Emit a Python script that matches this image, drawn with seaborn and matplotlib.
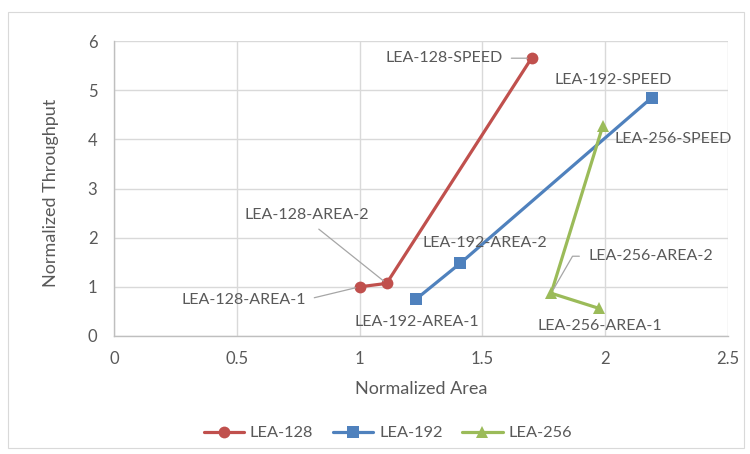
import matplotlib
matplotlib.use("Agg")
import matplotlib.pyplot as plt
import seaborn as sns
import pandas as pd
from matplotlib.patches import Rectangle

# Design points per key size (area, throughput), normalized
series = ["LEA-128", "LEA-192", "LEA-256"]
lea128_area = [1.00, 1.11, 1.70]
lea128_thr = [1.00, 1.07, 5.65]
lea192_area = [1.23, 1.41, 2.19]
lea192_thr = [0.75, 1.48, 4.85]
lea256_area = [1.976, 1.78, 1.99]
lea256_thr = [0.56, 0.87, 4.27]
lea128_names = ["LEA-128-AREA-1", "LEA-128-AREA-2", "LEA-128-SPEED"]
lea192_names = ["LEA-192-AREA-1", "LEA-192-AREA-2", "LEA-192-SPEED"]
lea256_names = ["LEA-256-AREA-1", "LEA-256-AREA-2", "LEA-256-SPEED"]

x_ticks = [0, 0.5, 1, 1.5, 2, 2.5]
x_tick_labels = ["0", "0.5", "1", "1.5", "2", "2.5"]
y_ticks = [0, 1, 2, 3, 4, 5, 6]

df = pd.DataFrame({
    "area": lea128_area + lea192_area + lea256_area,
    "thr": lea128_thr + lea192_thr + lea256_thr,
    "design": lea128_names + lea192_names + lea256_names,
    "cipher": [series[0]] * 3 + [series[1]] * 3 + [series[2]] * 3,
})

sns.set_theme(style="white")
plt.rcParams["font.family"] = ["Lato", "DejaVu Sans"]
TXT = "#595959"
GRID = "#d9d9d9"
FS_LABEL = 11.5
FS_TICK = 12
FS_TITLE = 13
FS_LEG = 11.8

fig = plt.figure(figsize=(7.5, 4.54), dpi=100)
fig.patch.set_facecolor("white")
fig.patches.append(Rectangle((8 / 750, 1 - 448 / 454), 736 / 750, 436 / 454,
                             transform=fig.transFigure, fill=False,
                             edgecolor="#d9d9d9", linewidth=0.8))
ax = fig.add_axes([114 / 750, 1 - 336 / 454, 614 / 750, 295 / 454])

palette = {"LEA-128": "#C0504D", "LEA-192": "#4F81BD", "LEA-256": "#9BBB59"}
markers = {"LEA-128": "o", "LEA-192": "s", "LEA-256": "^"}
sns.lineplot(data=df, x="area", y="thr", hue="cipher", style="cipher",
             markers=markers, dashes=False, palette=palette, sort=False,
             estimator=None, linewidth=2.3, markersize=8.5,
             markeredgewidth=0, ax=ax)

ax.set_xlim(0, 2.5)
ax.set_ylim(0, 6)
ax.set_xticks(x_ticks)
ax.set_xticklabels(x_tick_labels)
ax.set_yticks(y_ticks)
ax.grid(True, color=GRID, linewidth=1.0)
ax.set_axisbelow(True)
for s in ["top", "right"]:
    ax.spines[s].set_visible(False)
for s in ["left", "bottom"]:
    ax.spines[s].set_color("#bfbfbf")
    ax.spines[s].set_linewidth(1.0)
ax.tick_params(axis="both", colors=TXT, labelsize=FS_TICK, length=0)
ax.tick_params(axis="y", pad=12)
ax.tick_params(axis="x", pad=11)
ax.set_xlabel("Normalized Area", color=TXT, fontsize=FS_TITLE, va="center")
ax.set_ylabel("Normalized Throughput", color=TXT, fontsize=FS_TITLE, va="center")
ax.xaxis.set_label_coords(0.5, (336 - 389) / 295)
ax.yaxis.set_label_coords((51 - 114) / 614, (336 - 193) / 295)

# Point labels: offset in pixels, alignment, optional leader line
label_style = {
    "LEA-128-SPEED": ((-29, 0), "right", ((1.0, 0.5), "arc3")),
    "LEA-192-SPEED": ((-39, 18), "center", None),
    "LEA-256-SPEED": ((12, -13), "left", None),
    "LEA-128-AREA-2": ((-80, 68), "center", ((0.53, 0.0), "arc3")),
    "LEA-128-AREA-1": ((-54, -13), "right", ((1.0, 0.5), "arc3")),
    "LEA-192-AREA-1": ((1, -23), "center", None),
    "LEA-192-AREA-2": ((25, 20), "center", None),
    "LEA-256-AREA-2": ((37, 37), "left", ((0.0, 0.5), "angle,angleA=0,angleB=60,rad=0")),
    "LEA-256-AREA-1": ((1, -18), "center", None),
}
for _, row in df.iterrows():
    off, ha, leader = label_style[row["design"]]
    kw = {}
    if leader is not None:
        relpos, cstyle = leader
        kw["arrowprops"] = dict(arrowstyle="-", color="#a6a6a6", lw=0.9,
                                relpos=relpos, shrinkA=4, shrinkB=3,
                                connectionstyle=cstyle)
    ax.annotate(row["design"], (row["area"], row["thr"]), xytext=off,
                textcoords="offset pixels", ha=ha, va="center",
                color=TXT, fontsize=FS_LABEL, **kw)

handles, labels = ax.get_legend_handles_labels()
ax.get_legend().remove()
fig.legend(handles, labels, loc="center", bbox_to_anchor=(388 / 750, 1 - 433 / 454),
           ncol=3, frameon=False, fontsize=FS_LEG, labelcolor=TXT,
           handlelength=2.45, handletextpad=0.37, columnspacing=1.2)

fig.savefig("out.png", dpi=100, facecolor="white")
